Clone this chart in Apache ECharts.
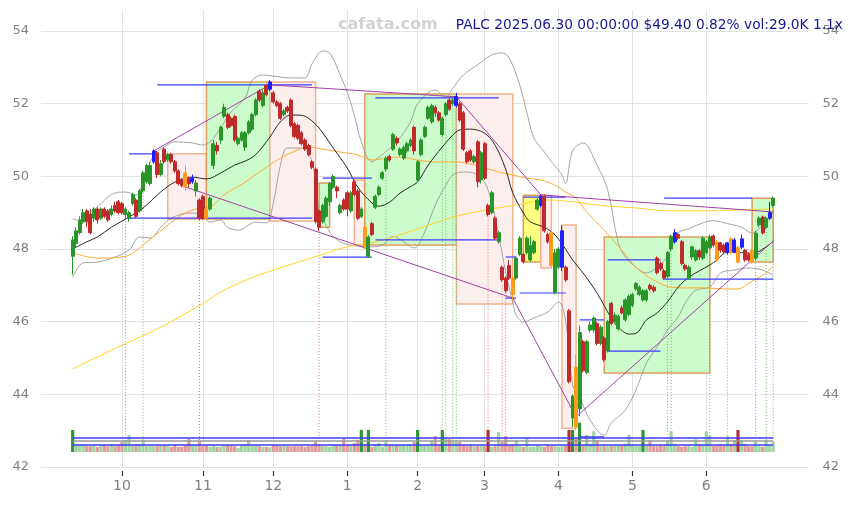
<!DOCTYPE html>
<html><head><meta charset="utf-8">
<script src="https://cdn.jsdelivr.net/npm/echarts@6/dist/echarts.min.js"></script>
<style>html,body{margin:0;padding:0;background:#fff}#c{width:853px;height:505px}</style>
</head><body><div id="c"></div>
<script>
// ---------- data ----------
const holidays = ['2024-11-28','2024-12-25','2025-01-01','2025-01-09','2025-01-20','2025-02-17','2025-04-18','2025-05-26','2025-06-19'];
function tradingDays(start, end, hol) {
  const out = []; let d = new Date(start + 'T00:00:00Z'); const e = new Date(end + 'T00:00:00Z');
  while (d <= e) { const wd = d.getUTCDay(); const s = d.toISOString().slice(0, 10);
    if (wd !== 0 && wd !== 6 && hol.indexOf(s) < 0) out.push(s); d = new Date(d.getTime() + 86400000); }
  return out;
}
const dates = tradingDays('2024-09-11', '2025-06-30', holidays);

// [open, close, low, high]
const ohlc = [
[47.8,48.25,47.3,48.35],[48.15,48.5,48.05,48.6],[48.45,48.8,48.4,48.9],[48.75,49.0,48.7,49.1],[49.05,48.75,48.6,49.1],[48.95,48.45,48.4,49.1],[48.85,49.1,48.75,49.15],[49.1,48.8,48.7,49.15],[48.85,49.1,48.8,49.15],[49.1,48.9,48.85,49.15],
[49.05,48.8,48.75,49.1],[48.95,49.1,48.9,49.2],[49.2,49.05,49.0,49.3],[49.3,49.0,48.95,49.35],[49.25,49.0,48.95,49.3],[48.95,49.1,48.85,49.15],[48.85,49.0,48.75,49.05],[49.25,49.5,49.2,49.55],[49.35,48.9,48.85,49.4],[49.05,49.6,49.0,49.65],
[49.6,50.1,49.55,50.15],[49.85,50.3,49.8,50.35],[49.8,50.3,49.75,50.4],[50.4,50.7,50.35,50.75],[50.65,50.05,49.95,50.7],[50.05,50.35,50.0,50.45],[50.75,50.4,50.35,50.8],[50.45,50.6,50.4,50.65],[50.6,50.4,50.35,50.65],[50.4,50.15,50.1,50.45],
[50.15,49.8,49.75,50.2],[49.9,49.75,49.7,49.95],[50.1,49.7,49.6,50.3],[49.95,49.8,49.7,50.0],[49.85,49.95,49.8,50.05],[49.6,49.82,49.45,49.9],[49.35,48.85,48.8,49.4],[49.45,48.85,48.8,49.5],[49.1,48.85,48.8,49.35],[49.1,49.4,49.05,49.45],
[50.3,50.9,50.2,51.0],[50.85,50.7,50.6,50.95],[51.0,51.35,50.9,51.4],[51.65,51.9,51.6,52.0],[51.7,51.35,51.3,51.75],[51.6,51.4,51.35,51.65],[51.65,51.0,50.95,51.7],[50.9,51.05,50.85,51.1],[51.0,51.2,50.95,51.25],[50.8,51.2,50.7,51.25],
[51.2,51.5,51.15,51.55],[51.3,51.7,51.25,51.75],[51.7,52.1,51.65,52.15],[52.35,52.1,52.05,52.4],[51.95,52.3,51.9,52.4],[52.5,52.25,52.2,52.55],[52.4,52.6,52.35,52.65],[52.3,52.05,52.0,52.35],[52.05,51.95,51.9,52.1],[52.0,51.6,51.55,52.05],
[51.7,51.8,51.65,51.85],[51.9,51.8,51.75,51.95],[52.1,51.4,51.35,52.15],[51.45,51.1,51.05,51.5],[51.4,51.05,51.0,51.45],[51.2,50.9,50.85,51.25],[51.0,50.75,50.7,51.05],[50.85,50.6,50.55,50.9],[50.4,50.25,50.2,50.45],[50.2,48.75,48.7,50.25],
[49.05,48.6,48.5,49.1],[48.75,49.2,48.7,49.25],[48.9,49.4,48.85,49.45],[49.3,49.8,49.2,49.85],[49.7,50.0,49.65,50.05],[49.7,49.6,49.4,49.75],[49.0,49.2,48.95,49.25],[49.35,49.1,49.05,49.4],[49.55,49.1,48.9,49.6],[49.05,49.55,49.0,49.6],
[49.85,49.5,49.45,49.9],[49.6,48.85,48.8,49.65],[48.9,49.1,48.85,49.15],[48.6,48.1,48.0,48.65],[47.8,48.33,47.75,48.38],[48.7,48.4,48.35,48.75],[49.15,49.45,49.1,49.5],[49.5,49.7,49.45,49.75],[49.95,50.1,49.9,50.15],[50.2,50.5,50.15,50.55],
[50.55,50.45,50.4,50.6],[50.75,51.15,50.7,51.2],[51.05,50.92,50.85,51.1],[50.6,50.75,50.55,50.8],[50.5,50.8,50.45,50.85],[50.7,50.9,50.65,50.95],[50.85,51.0,50.8,51.05],[51.35,50.7,50.6,51.4],[49.9,50.4,49.85,50.45],[50.6,51.0,50.55,51.05],
[51.1,51.35,51.05,51.4],[51.6,51.9,51.55,51.95],[51.5,51.95,51.45,52.0],[51.9,51.75,51.65,51.95],[51.75,51.55,51.5,51.8],[51.15,51.6,51.1,51.65],[51.7,52.0,51.65,52.05],[52.1,51.85,51.8,52.15],[52.0,52.1,51.95,52.15],[51.95,52.2,51.9,52.3],
[52.0,51.55,51.5,52.05],[51.75,50.75,50.7,51.8],[50.65,50.4,50.35,50.7],[50.7,50.45,50.4,50.75],[50.4,50.55,50.35,50.6],[50.95,49.85,49.7,51.0],[49.9,50.65,49.8,50.7],[50.9,49.95,49.9,50.95],[49.2,48.95,48.9,49.25],[49.0,49.55,48.95,49.6],
[48.85,48.3,48.25,48.9],[48.2,48.45,48.15,48.5],[47.5,47.15,47.1,47.55],[47.2,46.85,46.8,47.25],[47.55,47.2,47.15,47.7],[47.2,46.75,46.6,47.25],[47.2,47.75,47.15,47.8],[47.85,48.3,47.8,48.35],[47.85,47.65,47.6,47.9],[47.9,48.3,47.85,48.35],
[47.7,48.1,47.65,48.35],[47.9,48.2,47.85,48.25],[49.1,49.35,49.05,49.4],[49.2,49.45,49.15,49.5],[49.45,48.5,48.45,49.5],[48.4,48.2,48.15,48.45],[48.45,47.55,47.5,48.5],[46.8,47.9,46.75,48.0],[47.5,48.0,47.45,48.05],[47.5,48.5,47.4,48.65],
[47.5,47.15,47.1,47.55],[46.3,44.35,44.3,46.35],[43.35,43.95,43.1,44.0],[44.75,43.1,43.0,45.1],[43.6,45.7,43.4,45.9],[45.45,44.65,44.6,45.5],[44.6,45.45,44.55,45.5],[45.77,45.91,45.7,46.0],[45.77,46.1,45.7,46.15],[45.95,45.4,45.35,46.0],
[45.4,45.85,45.35,45.9],[45.55,44.95,44.9,45.6],[45.2,46.0,45.15,46.05],[46.5,45.95,45.9,46.55],[45.99,46.18,45.95,46.25],[45.8,46.15,45.75,46.2],[46.38,46.24,46.2,46.45],[46.05,46.6,46.0,46.65],[46.2,46.7,46.15,46.75],[46.45,46.75,46.4,46.8],
[46.9,47.05,46.85,47.1],[46.75,46.95,46.7,47.0],[46.6,46.85,46.55,46.9],[46.6,46.85,46.55,46.9],[47.0,46.9,46.85,47.05],[46.95,46.85,46.8,47.0],[47.75,47.35,47.3,47.8],[47.6,47.45,47.4,47.65],[47.4,47.2,47.15,47.45],[47.25,47.9,47.2,47.95],
[48.0,48.35,47.95,48.4],[48.2,48.45,48.15,48.55],[48.4,48.3,48.25,48.45],[48.2,47.6,47.55,48.25],[47.55,47.45,47.4,47.6],[47.2,47.5,47.15,47.55],[47.78,48.06,47.7,48.1],[47.7,47.95,47.65,48.0],[47.95,47.78,47.7,48.0],[47.75,48.3,47.7,48.35],
[47.9,48.2,47.85,48.25],[48.03,48.33,48.0,48.4],[48.36,48.11,48.05,48.4],[48.19,47.7,47.65,48.25],[48.17,47.97,47.9,48.2],[48.11,47.92,47.85,48.15],[47.9,48.17,47.85,48.2],[48.28,47.9,47.85,48.32],[47.92,48.25,47.88,48.3],[48.05,47.64,47.6,48.1],
[48.05,48.28,48.0,48.4],[47.97,47.7,47.65,48.0],[47.84,47.7,47.65,47.9],[47.97,47.64,47.6,48.0],[47.75,48.44,47.7,48.5],[48.66,48.85,48.6,48.9],[48.88,48.44,48.4,48.92],[48.6,48.85,48.55,48.9],[48.85,49.0,48.8,49.3],[49.2,49.4,49.15,49.45]
];

// volume, thousands of shares
const volumes = [
64,23,20,20,17,17,20,15,20,20, 17,23,17,20,29,35,49,20,23,23, 35,17,17,17,17,20,20,17,15,20, 15,15,20,38,20,20,32,17,20,15,
20,15,15,20,20,20,17,12,20,23, 35,17,20,17,15,15,14,20,20,17, 20,17,17,17,17,17,15,17,17,29, 20,17,17,15,20,20,20,38,20,20,
26,35,64,23,64,15,23,26,15,35, 20,20,20,20,20,20,20,29,64,19, 19,19,34,46,19,64,41,37,31,29, 31,21,17,21,17,17,19,17,64,15,
17,58,29,46,19,21,34,17,15,41, 15,15,19,17,15,21,17,17,15,17, 21,64,64,39,85,19,50,24,60,34, 17,17,17,17,19,19,19,24,50,19,
17,17,64,19,34,17,17,19,17,34, 60,24,17,15,17,17,15,37,24,21, 60,48,17,19,21,19,46,24,34,64, 34,24,17,17,29,17,15,34,19,29
];

const blueCandles = [23,34,56,109,133,139,171,186,188,190,198];
const orangeCandles = [32,38,83,125,136,143,183,187,189,193];

// indicator lines: [dayIndex, value]
const ma20 = [[0,48.0],[4,48.2],[7,48.33],[11,48.6],[16,48.88],[20,49.13],[25,49.57],[29,49.84],[34,49.98],[38,49.93],[42,50.09],[46,50.31],[49,50.42],[52,50.6],[56,51.08],[59,51.5],[62,51.69],[65,51.68],[67,51.6],[70,51.33],[74,50.78],[78,50.23],[81,49.7],[85,49.27],[87,49.18],[90,49.29],[93,49.54],[96,49.72],[98,49.85],[101,50.31],[105,50.81],[108,51.14],[110,51.28],[113,51.3],[117,51.19],[120,50.86],[123,50.2],[125,49.55],[128,49.0],[130,48.75],[134,48.6],[137,48.39],[140,48.0],[142,47.7],[145,47.34],[149,46.78],[153,46.1],[155,45.85],[158,45.66],[160,45.68],[163,46.05],[166,46.24],[169,46.55],[172,46.95],[175,47.22],[178,47.4],[181,47.56],[183,47.7],[186,47.92],[190,47.9],[193,47.88],[197,48.06],[199,48.22]];
const bbUpper = [[0,48.83],[3,48.77],[7,49.16],[12,49.54],[15,49.57],[18,49.49],[20,49.84],[23,50.59],[26,50.81],[29,50.95],[34,50.92],[37,50.86],[39,50.95],[42,51.33],[45,51.77],[49,52.16],[51,52.65],[54,52.79],[57,52.76],[62,52.71],[66,52.71],[68,53.1],[71,53.45],[73,53.4],[76,52.79],[78,52.32],[80,51.69],[82,50.95],[85,50.4],[87,50.53],[92,50.95],[96,51.5],[98,52.0],[103,52.38],[106,52.18],[108,52.43],[111,52.79],[115,53.07],[119,53.34],[122,53.4],[124,53.26],[127,52.51],[129,51.77],[131,51.06],[134,50.67],[136,50.4],[139,50.04],[140,49.8],[142,50.7],[145,50.92],[149,50.3],[152,49.62],[155,48.17],[157,47.78],[160,47.5],[163,47.34],[166,47.5],[169,47.8],[172,48.44],[175,48.56],[179,48.72],[182,48.78],[186,48.7],[190,48.6],[193,48.44],[196,48.66],[199,49.02]];
const bbLower = [[0,47.23],[3,47.62],[7,47.64],[12,47.78],[16,47.97],[19,48.33],[22,48.3],[25,48.6],[28,48.85],[33,48.99],[37,48.94],[39,48.74],[42,48.8],[44,48.6],[47,48.52],[52,48.74],[55,48.72],[57,49.27],[59,50.3],[61,50.78],[65,50.78],[68,50.4],[70,49.13],[73,48.47],[76,48.2],[79,48.11],[85,48.06],[88,48.11],[91,48.35],[94,48.2],[97,48.03],[100,48.47],[103,49.21],[106,49.76],[108,50.04],[111,50.12],[114,50.09],[117,49.84],[119,49.29],[121,48.39],[123,47.37],[125,46.54],[126,46.18],[128,45.99],[131,46.1],[135,46.27],[138,46.54],[140,46.05],[142,44.26],[144,43.93],[147,43.29],[151,42.88],[153,43.21],[157,43.57],[160,44.12],[163,44.86],[166,45.3],[169,45.77],[172,46.13],[174,46.51],[177,46.87],[181,46.95],[184,47.34],[188,47.42],[192,47.48],[196,47.42],[199,47.28]];
const ma50 = [[0,47.9],[7,47.75],[15,47.8],[21,48.19],[26,48.58],[31,48.94],[36,49.13],[39,49.16],[43,49.49],[49,49.84],[53,50.12],[59,50.5],[64,50.73],[67,50.81],[72,50.73],[76,50.67],[81,50.59],[85,50.45],[89,50.5],[93,50.53],[98,50.45],[103,50.4],[109,50.4],[116,50.26],[121,50.12],[125,50.04],[129,49.95],[133,49.9],[137,49.76],[140,49.57],[143,49.4],[146,49.02],[151,48.52],[156,47.97],[160,47.5],[165,47.15],[170,46.95],[175,46.93],[180,46.93],[185,46.9],[189,46.9],[192,47.06],[196,47.28],[199,47.53]];
const ma200 = [[0,44.7],[14,45.35],[25,45.85],[37,46.5],[43,46.87],[52,47.25],[57,47.42],[66,47.7],[71,47.85],[78,48.06],[85,48.17],[90,48.3],[98,48.55],[107,48.85],[117,49.07],[126,49.21],[135,49.35],[142,49.3],[150,49.2],[160,49.13],[170,49.05],[180,49.05],[190,49.08],[199,49.1]];

// trend lines: [day1, value1, day2, value2]
const trendLines = [[23,50.7,56,52.52],[56,52.52,109,52.19],[109,52.19,133,49.49],[133,49.49,199,49.02],[32,49.71,125,46.65],[125,46.65,143,43.38],[143,43.38,199,48.22]];
// horizontal levels: [dayFrom, dayTo, value]
const levels = [[16,23,50.62],[24,68,52.52],[16,68,48.85],[71,85,49.95],[71,85,47.78],[86,121,52.16],[86,121,48.25],[123,126,47.78],[123,126,46.65],[128,140,49.43],[127,140,46.79],[144,151,46.05],[144,151,42.83],[152,167,47.7],[152,167,45.19],[168,193,49.4],[168,199,47.17]];
// boxes: [dayFrom, dayTo, top, bottom]
const boxes = [[27,38,50.62,48.83],[38,56,52.6,48.83],[56,69,52.6,48.77],[70,73,49.82,48.6],[80,83,49.9,48.11],[83,109,52.27,48.11],[109,125,52.27,46.49],[128,133,49.48,47.64],[133,136,49.48,47.48],[139,143,48.66,43.07],[151,181,48.33,44.59],[193,199,49.4,47.64]];
const boxKinds = ['down','up','down','up','down','up','down','flat','down','down','up','up'];
const upSignals = [15,20,89,105,106,108,109,169,170,181,186,194,197,199];
const downSignals = [36,70,118,122,123];
const volLevels = [42.6, 33.9, 22.3];

// ---------- chart ----------
const PADL = 9, PADR = 10;
const cats = [];
for (let k = 0; k < PADL; k++) cats.push('padL' + k);
dates.forEach(d => cats.push(d));
for (let k = 0; k < PADR; k++) cats.push('padR' + k);

function monthStart(idx) {
  const j = idx - PADL;
  if (j <= 0 || j >= dates.length) return false;
  return dates[j].slice(5, 7) !== dates[j - 1].slice(5, 7);
}

const UP = '#2a962a', DOWN = '#c02a2a', BLUE = '#1f1fff', ORANGE = '#ff9c1a';
const candleData = cats.map((c, k) => {
  const j = k - PADL;
  if (j < 0 || j >= ohlc.length) return '-';
  const [o, cl, l, h] = ohlc[j];
  const item = { value: [o, cl, l, h] };
  let col = null;
  if (blueCandles.indexOf(j) >= 0) col = BLUE;
  if (orangeCandles.indexOf(j) >= 0) col = ORANGE;
  if (col) item.itemStyle = { color: col, color0: col, borderColor: col, borderColor0: col };
  return item;
});
const volData = cats.map((c, k) => {
  const j = k - PADL;
  if (j < 0 || j >= volumes.length) return '-';
  const up = ohlc[j][1] >= ohlc[j][0];
  const spike = volumes[j] >= 62;
  return { value: volumes[j], itemStyle: { color: up ? (spike ? '#2e962e' : '#a2d4a2') : (spike ? '#b83030' : '#e09c9c') } };
});
const toLine = arr => arr.map(p => [p[0] + PADL, p[1]]);

function segSeries(data, color, width, dash, z) {
  return {
    type: 'custom', xAxisIndex: 0, yAxisIndex: 0, z: z, silent: true, clip: true,
    data: data, encode: { x: [0, 2], y: [1, 3] },
    renderItem: (params, api) => {
      const a = api.coord([api.value(0), api.value(1)]);
      const b = api.coord([api.value(2), api.value(3)]);
      return { type: 'line', shape: { x1: a[0], y1: a[1], x2: b[0], y2: b[1] },
        style: { stroke: color, lineWidth: width, lineDash: dash || null } };
    }
  };
}

const sigBottom = 42.41;
const option = {
  animation: false,
  backgroundColor: '#ffffff',
  grid: [
    { left: 41, right: 44.6, top: 10, height: 457 },
    { left: 41, right: 44.6, top: 422, height: 30 }
  ],
  xAxis: [
    { gridIndex: 0, type: 'category', data: cats, boundaryGap: false, offset: 4,
      axisLine: { show: false },
      axisTick: { show: true, interval: monthStart, length: 5, lineStyle: { color: '#333', width: 1.2 } },
      axisLabel: { interval: monthStart, formatter: v => String(+v.slice(5, 7)), color: '#808080', fontSize: 14, fontFamily: 'DejaVu Sans', margin: 8 },
      splitLine: { show: true, interval: monthStart, lineStyle: { color: '#e3e3e3', width: 1 } } },
    { gridIndex: 1, type: 'category', data: cats, boundaryGap: false, show: false }
  ],
  yAxis: [
    { gridIndex: 0, type: 'value', min: 42, max: 54.58, interval: 2, position: 'left',
      axisLine: { show: false }, axisTick: { show: false },
      axisLabel: { color: '#808080', fontSize: 13, fontFamily: 'DejaVu Sans', margin: 12, showMaxLabel: false,
        formatter: v => (Math.abs(v - Math.round(v)) < 1e-6 ? String(Math.round(v)) : '') },
      splitLine: { show: true, showMaxLine: false, lineStyle: { color: '#e3e3e3', width: 1 } } },
    { gridIndex: 0, type: 'value', min: 42, max: 54.58, interval: 2, position: 'right',
      axisLine: { show: false }, axisTick: { show: false },
      axisLabel: { color: '#808080', fontSize: 13, fontFamily: 'DejaVu Sans', margin: 14, showMaxLabel: false,
        formatter: v => (Math.abs(v - Math.round(v)) < 1e-6 ? String(Math.round(v)) : '') },
      splitLine: { show: false } },
    { gridIndex: 1, type: 'value', min: 0, max: 87, show: false, splitLine: { show: false } }
  ],
  graphic: [
    { type: 'text', left: 338, top: 17, z: 100, style: { text: 'cafata.com', fill: '#d2d2d2', font: 'bold 16px "DejaVu Sans"' } },
    { type: 'text', right: 10, top: 18, z: 100, style: { text: 'PALC 2025.06.30 00:00:00 $49.40 0.82% vol:29.0K 1.1x', fill: '#16168f', font: '13.75px "DejaVu Sans"' } }
  ],
  series: [
    { type: 'custom', name: 'boxes', xAxisIndex: 0, yAxisIndex: 0, z: 1, silent: true, clip: true,
      data: boxes.map(b => [b[0] + PADL, b[2], b[1] + PADL, b[3]]),
      encode: { x: [0, 2], y: [1, 3] },
      renderItem: (params, api) => {
        const a = api.coord([api.value(0), api.value(1)]);
        const b = api.coord([api.value(2), api.value(3)]);
        const kind = boxKinds[params.dataIndex];
        const fill = kind === 'up' ? '#ccfccc' : kind === 'down' ? '#fdeeee' : '#ffff80';
        const stroke = kind === 'down' ? '#eeb38f' : '#dd9d5a';
        return { type: 'rect', shape: { x: a[0], y: a[1], width: b[0] - a[0], height: b[1] - a[1] },
          style: { fill: fill, stroke: stroke, lineWidth: 1.5 } };
      } },
    segSeries(upSignals.map(i => [i + PADL, ohlc[i][2], i + PADL, sigBottom]), '#66bb66', 1, [1, 2], 2),
    segSeries(downSignals.map(i => [i + PADL, ohlc[i][2], i + PADL, sigBottom]), '#d97070', 1, [1, 2], 2),
    { type: 'line', data: toLine(bbUpper), smooth: 0.35, symbol: 'none', z: 3, silent: true, lineStyle: { color: '#9a9a9a', width: 0.9 } },
    { type: 'line', data: toLine(bbLower), smooth: 0.35, symbol: 'none', z: 3, silent: true, lineStyle: { color: '#9a9a9a', width: 0.9 } },
    { type: 'line', data: toLine(ma200), smooth: 0.35, symbol: 'none', z: 3, silent: true, lineStyle: { color: '#ffd426', width: 1 } },
    { type: 'line', data: toLine(ma50), smooth: 0.35, symbol: 'none', z: 3, silent: true, lineStyle: { color: '#ffaa33', width: 1 } },
    { type: 'line', data: toLine(ma20), smooth: 0.35, symbol: 'none', z: 3, silent: true, lineStyle: { color: '#111111', width: 0.9 } },
    segSeries(levels.map(l => [l[0] + PADL, l[2], l[1] + PADL, l[2]]), '#3b3bff', 1.2, null, 4),
    segSeries(trendLines.map(t => [t[0] + PADL, t[1], t[2] + PADL, t[3]]), '#a23fa8', 1, null, 4),
    { type: 'candlestick', name: 'PALC', data: candleData, z: 5, barWidth: 3.5,
      itemStyle: { color: UP, color0: DOWN, borderColor: UP, borderColor0: DOWN, borderWidth: 1 } },
    { type: 'bar', name: 'vol', xAxisIndex: 1, yAxisIndex: 2, data: volData, barWidth: 3.2, z: 2,
      markLine: { symbol: ['none', 'none'], silent: true, label: { show: false },
        data: volLevels.map((v, k) => [
          { coord: [PADL, v], lineStyle: { color: k === 1 ? '#999999' : '#3b3bff', width: 1.5, type: 'solid' } },
          { coord: [PADL + dates.length - 1, v] }
        ]) } }
  ]
};
const chart = echarts.init(document.getElementById('c'), null, { renderer: 'canvas' });
chart.setOption(option);
</script></body></html>
